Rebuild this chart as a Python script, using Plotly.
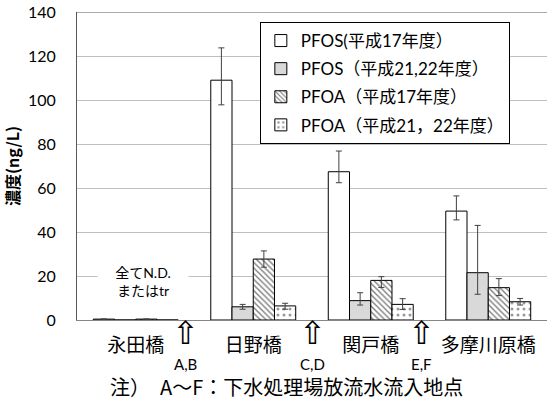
import plotly.graph_objects as go

# Sampling sites along the river (upstream -> downstream)
sites = ["永田橋", "日野橋", "関戸橋", "多摩川原橋"]

# Mean concentrations (ng/L)
pfos_h17 = [0.4, 109.0, 67.4, 49.5]
pfos_h21 = [0.0, 6.0, 8.8, 21.5]
pfoa_h17 = [0.4, 27.7, 18.0, 14.7]
pfoa_h21 = [0.0, 6.4, 7.1, 8.3]

# Upper / lower error ranges (ng/L)
pfos_h17_up = [0, 14.7, 9.4, 6.9]
pfos_h17_dn = [0, 11.2, 5.0, 4.0]
pfos_h21_up = [0, 1.1, 3.6, 21.5]
pfos_h21_dn = [0, 1.1, 2.0, 9.8]
pfoa_h17_up = [0, 3.7, 1.7, 4.1]
pfoa_h17_dn = [0, 3.7, 3.2, 3.6]
pfoa_h21_up = [0, 1.2, 2.6, 1.5]
pfoa_h21_dn = [0, 1.5, 2.3, 1.5]

series_names = [
    "PFOS(平成17年度）",
    "PFOS（平成21,22年度）",
    "PFOA（平成17年度）",
    "PFOA（平成21，22年度）",
]

# Sewage treatment plant outflow points, between sites
inflow_labels = ["A,B", "C,D", "E,F"]
inflow_pos = [0.42, 1.50, 2.43]

y_ticks = [0, 20, 40, 60, 80, 100, 120, 140]

LATIN = "Lato, 'Noto Sans CJK JP', sans-serif"
CJK = "'Noto Sans CJK JP', sans-serif"

def err(up, dn):
    return dict(type="data", symmetric=False, array=up, arrayminus=dn,
                color="#404040", thickness=1, width=3)

outline = dict(color="black", width=1)

fig = go.Figure()
fig.add_trace(go.Bar(
    x=sites, y=pfos_h17, name=series_names[0], legendgroup="a",
    marker=dict(color="white", line=outline),
    error_y=err(pfos_h17_up, pfos_h17_dn)))
fig.add_trace(go.Bar(
    x=sites, y=pfos_h21, name=series_names[1], legendgroup="b",
    marker=dict(color="#D9D9D9", line=outline),
    error_y=err(pfos_h21_up, pfos_h21_dn)))
fig.add_trace(go.Bar(
    x=sites, y=pfoa_h17, name=series_names[2], legendgroup="c",
    marker=dict(color="white", line=outline,
                pattern=dict(shape="\\", fgcolor="black", bgcolor="white",
                             size=4, solidity=0.35)),
    error_y=err(pfoa_h17_up, pfoa_h17_dn)))
fig.add_trace(go.Bar(
    x=sites, y=pfoa_h21, name=series_names[3], legendgroup="d",
    marker=dict(color="white", line=outline,
                pattern=dict(shape=".", fgcolor="#333333", bgcolor="white",
                             size=6, solidity=0.2)),
    error_y=err(pfoa_h21_up, pfoa_h21_dn)))

annotations = []
# note for the upstream site
annotations.append(dict(
    x=0.06, y=17.3, xref="x", yref="y", text="全てN.D.<br>またはtr",
    showarrow=False, font=dict(family=LATIN, size=14, color="black"),
    bgcolor="white", width=80, borderpad=5))
# inflow arrows and labels
for lab, pos in zip(inflow_labels, inflow_pos):
    annotations.append(dict(
        x=pos, y=-0.042, xref="x", yref="paper", text="⇧",
        showarrow=False, yanchor="middle",
        font=dict(family="DejaVu Sans", size=32, color="black")))
    annotations.append(dict(
        x=pos, y=-0.143, xref="x", yref="paper", text=lab,
        showarrow=False, yanchor="middle",
        font=dict(family=LATIN, size=15, color="black")))
annotations.append(dict(
    x=0.066, y=-0.215, xref="paper", yref="paper", xanchor="left",
    yanchor="middle", text="注）　A～F：下水処理場放流水流入地点",
    showarrow=False, font=dict(family=CJK, size=20, color="black")))

fig.update_layout(
    width=547, height=413,
    margin=dict(l=77, r=0, t=12, b=93),
    paper_bgcolor="white", plot_bgcolor="white",
    barmode="group", bargap=0.277, bargroupgap=0,
    showlegend=True,
    legend=dict(x=0.389, y=0.9675, xanchor="left", yanchor="top",
                bgcolor="white", bordercolor="black", borderwidth=1,
                traceorder="grouped", tracegroupgap=3,
                entrywidth=215, entrywidthmode="pixels",
                font=dict(family=LATIN, size=17, color="black")),
    xaxis=dict(type="category", range=[-0.5, 3.5], showgrid=False,
               showline=True, linecolor="#868686", linewidth=1,
               ticks="", tickfont=dict(family=CJK, size=19, color="black"),
               ticklabelstandoff=8),
    yaxis=dict(range=[0, 140], tickvals=y_ticks, showgrid=True,
               gridcolor="#BFBFBF", gridwidth=1, zeroline=False,
               showline=True, linecolor="#595959", linewidth=1,
               ticks="", ticklabelstandoff=17,
               tickfont=dict(family=LATIN, size=16, color="black"),
               title=dict(text="<b>濃度(ng/L)</b>", standoff=8,
                          font=dict(family=CJK, size=16, color="black"))),
    annotations=annotations,
    shapes=[dict(type="line", xref="paper", yref="y", x0=0, x1=1,
                 y0=140, y1=140, line=dict(color="#595959", width=1),
                 layer="below")],
)

fig.write_html("out.html")
